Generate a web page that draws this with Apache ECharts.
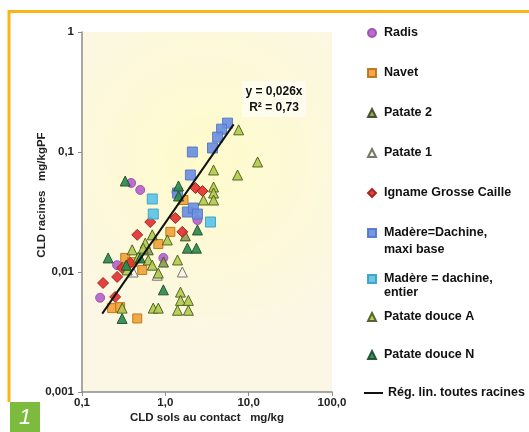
<!DOCTYPE html>
<html>
<head>
<meta charset="utf-8">
<script src="https://cdn.jsdelivr.net/npm/echarts@6/dist/echarts.min.js"></script>
<style>html,body{margin:0;padding:0;background:#fff}#c{width:529px;height:432px}</style>
</head>
<body>
<div id="c"></div>
<script>
// ---- data (x: CLD sols au contact mg/kg, y: CLD racines mg/kgPF) ----
const xTickLabels = ['0,1', '1,0', '10,0', '100,0'];
const yTickLabels = ['0,001', '0,01', '0,1', '1'];

const radis = [[0.389,0.0552],[0.50,0.0483],[0.165,0.0061],[0.264,0.0114],[0.947,0.0131],[1.36,0.0464],[2.43,0.0271]];
const navet = [[0.23,0.0050],[0.287,0.0051],[0.46,0.0041],[0.33,0.0131],[0.40,0.0121],[0.528,0.0104],[0.824,0.0171],[1.149,0.0216],[1.65,0.0398]];
const patate2 = [[0.624,0.0153],[1.74,0.0200],[0.95,0.0121]];
const patate1 = [[1.60,0.0100],[0.411,0.0100],[0.80,0.0094]];
const igname = [[0.179,0.0081],[0.25,0.0062],[0.264,0.0091],[0.379,0.0119],[0.46,0.0204],[0.659,0.0261],[1.32,0.0282],[1.60,0.0216],[2.30,0.0501],[2.79,0.0473],[0.303,0.0108]];
const madereMaxi = [[5.58,0.174],[4.73,0.155],[4.24,0.133],[3.68,0.108],[2.11,0.100],[2.00,0.0643],[1.84,0.0316],[2.17,0.0341],[2.43,0.0304],[1.40,0.0455]];
const madereEntier = [[0.697,0.0406],[0.716,0.0304],[3.48,0.0261]];
const patateDouceA = [[7.58,0.153],[12.8,0.0826],[7.36,0.0643],[3.79,0.0708],[3.79,0.0511],[3.79,0.0455],[3.79,0.0398],[2.87,0.0398],[0.697,0.0204],[0.574,0.0174],[1.057,0.0185],[0.473,0.0133],[0.624,0.0126],[0.697,0.0114],[0.824,0.0098],[1.40,0.0126],[1.52,0.0068],[1.52,0.0058],[1.89,0.0058],[1.40,0.0048],[1.89,0.0048],[0.716,0.0050],[0.824,0.0050],[0.40,0.0153],[0.348,0.0104],[0.303,0.0050],[0.543,0.0158]];
const patateDouceN = [[0.33,0.0573],[1.44,0.0521],[1.44,0.0430],[2.43,0.0224],[1.84,0.0158],[2.36,0.0158],[0.206,0.0131],[0.339,0.0114],[0.947,0.0071],[0.303,0.0041],[0.50,0.0131]];
const regression = [[0.175,0.0045],[6.6,0.17]];

const names = ['Radis','Navet','Patate 2','Patate 1','Igname Grosse Caille','Madère=Dachine, maxi base','Madère = dachine, entier','Patate douce A','Patate douce N','Rég. lin. toutes racines'];

// ---- chart ----
const FONT = "'Liberation Sans', Arial, sans-serif";

function sc(name, data, symbol, size, color, border) {
  return {
    name: name, type: 'scatter', data: data, symbol: symbol, symbolSize: size,
    itemStyle: { color: color, borderColor: border, borderWidth: 1, opacity: 0.92 },
    emphasis: { disabled: true }
  };
}

const series = [
  sc(names[0], radis, 'circle', 9, '#b463c9', '#9a4fb0'),
  sc(names[1], navet, 'rect', 9, '#f2a23a', '#b87416'),
  sc(names[2], patate2, 'triangle', 10, '#8aa052', '#3d4a22'),
  sc(names[3], patate1, 'triangle', 10, '#f4f4ec', '#6b6b5a'),
  sc(names[4], igname, 'diamond', 11, '#e1332f', '#9c2020'),
  sc(names[5], madereMaxi, 'rect', 10, '#6b8fe0', '#5576c8'),
  sc(names[6], madereEntier, 'rect', 10, '#5cc3e6', '#3aa0c8'),
  sc(names[7], patateDouceA, 'triangle', 10, '#b2cb4e', '#4a5a20'),
  sc(names[8], patateDouceN, 'triangle', 10, '#2c8b4c', '#1d4d2c'),
  {
    name: names[9], type: 'line', data: regression, symbol: 'none',
    lineStyle: { color: '#111', width: 2 }, itemStyle: { color: '#111' },
    z: 5, emphasis: { disabled: true }
  }
];

const legendY = [33, 73, 113, 153, 193, 233, 279, 317, 355, 393];
const legends = names.map(function (n, i) {
  const isLine = i === 9;
  return {
    data: [n], orient: 'vertical', padding: 0,
    left: isLine ? 363 : 367, top: legendY[i] - 8,
    itemWidth: isLine ? 19 : 8, itemHeight: isLine ? 2 : 8, itemGap: 0,
    selectedMode: false,
    formatter: function (name) { return name.replace(/, (maxi base|entier)$/, ','); },
    textStyle: { fontFamily: FONT, fontSize: 12.5, fontWeight: 'bold', color: '#111', lineHeight: 16, padding: [0,0,0,isLine ? 0 : 3] }
  };
});

const chart = echarts.init(document.getElementById('c'), null, { renderer: 'canvas' });
chart.setOption({
  animation: false,
  backgroundColor: '#ffffff',
  grid: {
    left: 82, top: 32, right: 197, bottom: 40, show: true, borderWidth: 0,
    backgroundColor: {
      type: 'radial', x: 0.5, y: 0.35, r: 0.75,
      colorStops: [{ offset: 0, color: '#fffbcb' }, { offset: 1, color: '#fbf7e4' }]
    }
  },
  legend: legends,
  xAxis: {
    type: 'log', logBase: 10, min: 0.1, max: 100,
    name: 'CLD sols au contact   mg/kg', nameLocation: 'middle', nameGap: 20, nameMoveOverlap: false,
    nameTextStyle: { fontFamily: FONT, fontSize: 11.5, fontWeight: 'bold', color: '#222' },
    axisLine: { show: true, lineStyle: { color: '#8c8c8c', width: 1.5 } },
    axisTick: { show: true, length: 4, lineStyle: { color: '#8c8c8c' } },
    minorTick: { show: false }, splitLine: { show: false },
    axisLabel: {
      margin: 5, fontFamily: FONT, fontSize: 11.5, fontWeight: 'bold', color: '#222',
      formatter: function (v) { return xTickLabels[Math.round(Math.log10(v)) + 1]; }
    }
  },
  yAxis: {
    type: 'log', logBase: 10, min: 0.001, max: 1,
    name: 'CLD racines   mg/kgPF', nameLocation: 'middle', nameGap: 34, nameMoveOverlap: false,
    nameTextStyle: { fontFamily: FONT, fontSize: 11.5, fontWeight: 'bold', color: '#222', padding: [0,0,0,34] },
    axisLine: { show: true, lineStyle: { color: '#8c8c8c', width: 1.5 } },
    axisTick: { show: true, length: 4, lineStyle: { color: '#8c8c8c' } },
    minorTick: { show: false }, splitLine: { show: false },
    axisLabel: {
      margin: 8, fontFamily: FONT, fontSize: 11.5, fontWeight: 'bold', color: '#222',
      formatter: function (v) { return yTickLabels[Math.round(Math.log10(v)) + 3]; }
    }
  },
  series: series,
  graphic: [
    { type: 'line', shape: { x1: 8, y1: 11.5, x2: 529, y2: 11.5 }, style: { stroke: '#fbb417', lineWidth: 3 } },
    { type: 'line', shape: { x1: 9, y1: 10, x2: 9, y2: 402 }, style: { stroke: '#fbb417', lineWidth: 3 } },
    { type: 'rect', shape: { x: 10, y: 402, width: 30, height: 30 }, style: { fill: '#7dbb3f' } },
    { type: 'text', x: 25, y: 418, style: { text: '1', fill: '#fff', font: 'italic 22px ' + FONT, align: 'center', verticalAlign: 'middle' } },
    { type: 'rect', shape: { x: 242, y: 81, width: 64, height: 36 }, style: { fill: 'rgba(255,255,255,0.55)' }, z: 10 },
    { type: 'text', x: 274, y: 92, z: 11, style: { text: 'y = 0,026x', fill: '#111', font: 'bold 12px ' + FONT, align: 'center', verticalAlign: 'middle' } },
    { type: 'text', x: 274, y: 108, z: 11, style: { text: 'R² = 0,73', fill: '#111', font: 'bold 12px ' + FONT, align: 'center', verticalAlign: 'middle' } },
    { type: 'text', x: 384, y: 250, style: { text: 'maxi base', fill: '#111', font: 'bold 12.5px ' + FONT, verticalAlign: 'middle' } },
    { type: 'text', x: 384, y: 293, style: { text: 'entier', fill: '#111', font: 'bold 12.5px ' + FONT, verticalAlign: 'middle' } }
  ]
});
</script>
</body>
</html>
